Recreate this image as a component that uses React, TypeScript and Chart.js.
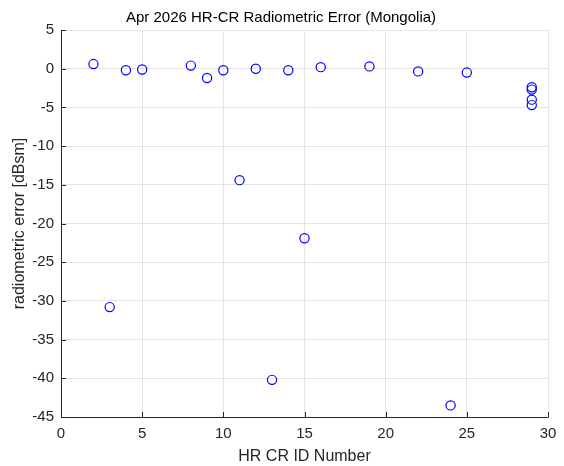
import React, { useEffect, useRef } from "react";
import { Chart, registerables } from "chart.js";

Chart.register(...registerables);

const titleText = "Apr 2026 HR-CR Radiometric Error (Mongolia)";
const xLabel = "HR CR ID Number";
const yLabel = "radiometric error [dBsm]";
const crIds = [2, 3, 4, 5, 8, 9, 10, 11, 12, 13, 14, 15, 16, 19, 22, 24, 25, 29, 29, 29, 29];
const errors = [0.6, -30.8, -0.2, -0.1, 0.4, -1.2, -0.2, -14.4, 0.0, -40.2, -0.2, -21.9, 0.2, 0.3, -0.35, -43.5, -0.5, -2.4, -2.7, -4.0, -4.7];
const xTicks = [0, 5, 10, 15, 20, 25, 30];
const yTicks = [5, 0, -5, -10, -15, -20, -25, -30, -35, -40, -45];

const FONT = "'Liberation Sans', Arial, sans-serif";

const decor = {
  id: "decor",
  afterDraw(chart: any) {
    const ctx = chart.ctx;
    const { left, right, top, bottom } = chart.chartArea;
    const xs = chart.scales.x;
    const ys = chart.scales.y;
    ctx.save();
    ctx.strokeStyle = "#e6e6e6";
    ctx.lineWidth = 1;
    ctx.beginPath();
    ctx.moveTo(left, top + 0.5);
    ctx.lineTo(right + 0.5, top + 0.5);
    ctx.lineTo(right + 0.5, bottom);
    ctx.stroke();
    ctx.strokeStyle = "#262626";
    ctx.beginPath();
    ctx.moveTo(left + 0.5, top);
    ctx.lineTo(left + 0.5, bottom + 0.5);
    ctx.lineTo(right + 0.5, bottom + 0.5);
    ctx.stroke();
    ctx.beginPath();
    xTicks.forEach((v) => {
      const px = Math.round(xs.getPixelForValue(v)) + 0.5;
      ctx.moveTo(px, bottom);
      ctx.lineTo(px, bottom - 5);
    });
    yTicks.forEach((v) => {
      const py = Math.round(ys.getPixelForValue(v)) + 0.5;
      ctx.moveTo(left, py);
      ctx.lineTo(left + 5, py);
    });
    ctx.stroke();
    ctx.fillStyle = "#000000";
    ctx.font = `15px ${FONT}`;
    ctx.textAlign = "center";
    ctx.textBaseline = "middle";
    ctx.fillText(titleText, 281, 18);
    ctx.restore();
  },
};

export default function App() {
  const ref = useRef<HTMLCanvasElement>(null);
  useEffect(() => {
    document.body.style.margin = "0";
    const chart = new Chart(ref.current!, {
      type: "scatter",
      data: {
        datasets: [
          {
            data: crIds.map((x, i) => ({ x, y: errors[i] })),
            pointStyle: "circle",
            pointRadius: 4.6,
            pointHoverRadius: 4.6,
            borderColor: "#0000ff",
            backgroundColor: "rgba(0,0,0,0)",
            pointBorderWidth: 1.2,
          },
        ],
      },
      options: {
        animation: false,
        responsive: false,
        devicePixelRatio: 1,
        layout: { padding: { left: 0, right: 16, top: 30, bottom: 0 } },
        plugins: { legend: { display: false }, tooltip: { enabled: false }, title: { display: false } },
        scales: {
          x: {
            type: "linear",
            min: 0,
            max: 30,
            afterBuildTicks: (s: any) => {
              s.ticks = xTicks.map((v) => ({ value: v }));
            },
            afterFit: (s: any) => {
              s.height = 49;
              s.paddingLeft = 0;
              s.paddingRight = 0;
            },
            grid: { color: "#e3e3e3", drawTicks: false, lineWidth: 1 },
            border: { display: false },
            ticks: { color: "#262626", font: { family: FONT, size: 15 }, padding: 8 },
            title: {
              display: true,
              text: xLabel,
              color: "#262626",
              font: { family: FONT, size: 16 },
              padding: { top: 0, bottom: 0 },
            },
          },
          y: {
            type: "linear",
            min: -45,
            max: 5,
            afterBuildTicks: (s: any) => {
              s.ticks = yTicks.map((v) => ({ value: v }));
            },
            afterFit: (s: any) => {
              s.width = 61;
              s.paddingTop = 0;
              s.paddingBottom = 0;
            },
            grid: { color: "#e3e3e3", drawTicks: false, lineWidth: 1 },
            border: { display: false },
            ticks: { color: "#262626", font: { family: FONT, size: 15 }, padding: 7 },
            title: {
              display: true,
              text: yLabel,
              color: "#262626",
              font: { family: FONT, size: 16 },
              padding: { top: 10, bottom: 0 },
            },
          },
        },
      },
      plugins: [decor],
    });
    return () => chart.destroy();
  }, []);
  return (
    <div style={{ position: "absolute", left: 0, top: 0, width: 564, height: 466, background: "#fff" }}>
      <canvas ref={ref} width={564} height={466} style={{ width: 564, height: 466 }} />
    </div>
  );
}
